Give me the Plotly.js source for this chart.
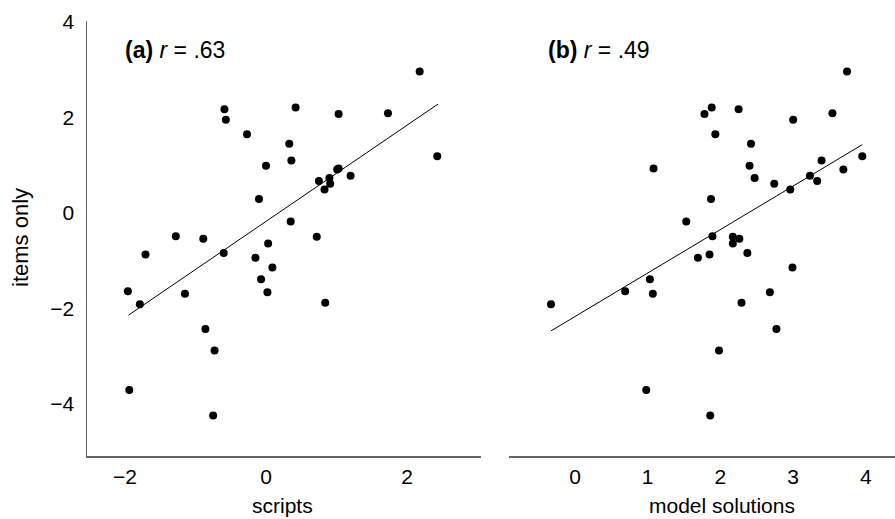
<!DOCTYPE html>
<html>
<head>
<meta charset="utf-8">
<script src="https://cdn.plot.ly/plotly-3.0.1.min.js"></script>
<style>html,body{margin:0;padding:0;background:#fff;}#chart{width:895px;height:519px;}</style>
</head>
<body>
<div id="chart"></div>
<script>
// shared outcome: items only
var itemsOnly = [2.96, 2.21, 2.17, 2.09, 2.07, 1.95, 1.65, 1.45, 1.19, 1.10, 0.99, 0.93, 0.91, 0.78, 0.73, 0.67, 0.61, 0.49, 0.29, -0.18, -0.49, -0.50, -0.54, -0.64, -0.84, -0.87, -0.94, -1.14, -1.39, -1.64, -1.66, -1.69, -1.88, -1.91, -2.43, -2.88, -3.71, -4.24];
// panel (a) predictor: scripts
var scripts = [2.18, 0.42, -0.59, 1.73, 1.03, -0.57, -0.27, 0.33, 2.43, 0.36, 0.00, 1.03, 1.01, 1.20, 0.90, 0.75, 0.91, 0.83, -0.10, 0.35, -1.28, 0.72, -0.89, 0.03, -0.60, -1.71, -0.15, 0.09, -0.07, -1.96, 0.02, -1.15, 0.84, -1.79, -0.86, -0.73, -1.94, -0.75];
// panel (b) predictor: model solutions
var modelSolutions = [3.74, 1.88, 2.25, 3.54, 1.78, 3.00, 1.93, 2.42, 3.95, 3.39, 2.40, 1.08, 3.69, 3.23, 2.47, 3.33, 2.74, 2.96, 1.87, 1.53, 1.89, 2.17, 2.26, 2.17, 2.37, 1.85, 1.69, 2.99, 1.03, 0.69, 2.68, 1.07, 2.29, -0.33, 2.77, 1.98, 0.98, 1.86];
// regression lines (endpoints)
var fitAx = [-1.95, 2.44], fitAy = [-2.14, 2.28];
var fitBx = [-0.33, 3.95], fitBy = [-2.47, 1.43];
// tick labels
var xTicksA = [-2, 0, 2];
var xTicksB = [0, 1, 2, 3, 4];
var yTicks = [-4, -2, 0, 2, 4];
var panelLabels = ['<b>(a)</b> <i>r</i> = .63', '<b>(b)</b> <i>r</i> = .49'];

var FONT = 'Liberation Sans, Arial, Helvetica, sans-serif';
var marker = {color: '#000', size: 8, symbol: 'circle'};

var traces = [
  {x: scripts, y: itemsOnly, xaxis: 'x', yaxis: 'y', type: 'scatter', mode: 'markers', marker: marker},
  {x: fitAx, y: fitAy, xaxis: 'x', yaxis: 'y', type: 'scatter', mode: 'lines', line: {color: '#000', width: 1}},
  {x: modelSolutions, y: itemsOnly, xaxis: 'x2', yaxis: 'y2', type: 'scatter', mode: 'markers', marker: marker},
  {x: fitBx, y: fitBy, xaxis: 'x2', yaxis: 'y2', type: 'scatter', mode: 'lines', line: {color: '#000', width: 1}}
];

var axLine = '#666';
var tickFont = {family: FONT, size: 21, color: '#000'};
var titleFont = {family: FONT, size: 21, color: '#000'};

var layout = {
  width: 895, height: 519,
  margin: {l: 87, r: 0, t: 21, b: 63, pad: 0},
  paper_bgcolor: '#fff', plot_bgcolor: '#fff',
  showlegend: false,
  font: {family: FONT, color: '#000'},
  xaxis: {domain: [0, 0.4876], range: [-2.54, 3.05], tickvals: xTicksA, ticks: '', showgrid: false, zeroline: false,
          showline: true, linecolor: axLine, linewidth: 1.5, tickfont: tickFont, ticklabelstandoff: 1, anchor: 'y', fixedrange: true},
  yaxis: {domain: [0, 1], range: [-5.09, 4.02], tickvals: yTicks, ticks: '', showgrid: false, zeroline: false,
          showline: true, linecolor: axLine, linewidth: 1.5, tickfont: tickFont, ticklabelstandoff: 7, anchor: 'x', fixedrange: true},
  xaxis2: {domain: [0.5223, 1], range: [-0.907, 4.40], tickvals: xTicksB, ticks: '', showgrid: false, zeroline: false,
           showline: true, linecolor: axLine, linewidth: 1.5, tickfont: tickFont, ticklabelstandoff: 1, anchor: 'y2', fixedrange: true},
  yaxis2: {domain: [0, 1], range: [-5.09, 4.02], showticklabels: false, ticks: '', showgrid: false, zeroline: false,
           showline: false, anchor: 'x2', matches: 'y', fixedrange: true},
  annotations: [
    {text: panelLabels[0], xref: 'paper', yref: 'paper', x: (123 - 87) / 808, y: (456 - 50) / 435, xanchor: 'left', yanchor: 'middle', showarrow: false, font: {family: FONT, size: 23, color: '#000'}},
    {text: panelLabels[1], xref: 'paper', yref: 'paper', x: (546 - 87) / 808, y: (456 - 50) / 435, xanchor: 'left', yanchor: 'middle', showarrow: false, font: {family: FONT, size: 23, color: '#000'}},
    {text: 'scripts', xref: 'paper', yref: 'paper', x: (282 - 87) / 808, y: (456 - 519) / 435, xanchor: 'center', yanchor: 'bottom', showarrow: false, font: titleFont},
    {text: 'model solutions', xref: 'paper', yref: 'paper', x: (722 - 87) / 808, y: (456 - 519) / 435, xanchor: 'center', yanchor: 'bottom', showarrow: false, font: titleFont},
    {text: 'items only', xref: 'paper', yref: 'paper', x: (20 - 87) / 808, y: (456 - 238) / 435, xanchor: 'center', yanchor: 'middle', textangle: -90, showarrow: false, font: {family: FONT, size: 22, color: '#000'}}
  ]
};

Plotly.newPlot('chart', traces, layout, {displayModeBar: false, staticPlot: true});
</script>
</body>
</html>
